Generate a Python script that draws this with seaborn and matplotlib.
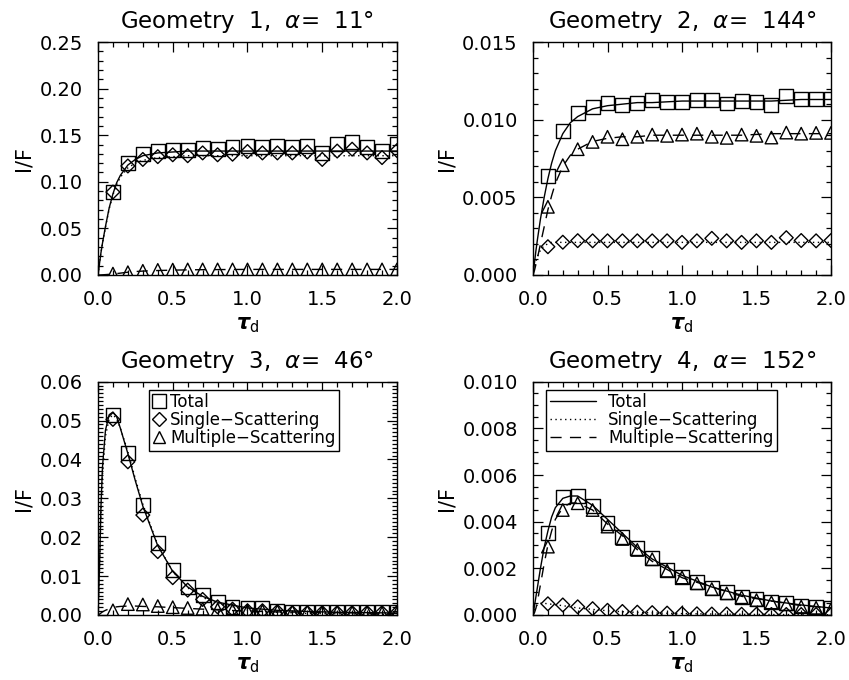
import numpy as np
import pandas as pd
import matplotlib
matplotlib.use("Agg")
import matplotlib.pyplot as plt
import seaborn as sns
from matplotlib.ticker import MultipleLocator, FormatStrFormatter
from matplotlib.lines import Line2D

# ---------------- data ----------------
tau_pts = [0.1, 0.2, 0.3, 0.4, 0.5, 0.6, 0.7, 0.8, 0.9, 1.0,
           1.1, 1.2, 1.3, 1.4, 1.5, 1.6, 1.7, 1.8, 1.9, 2.0]
tau_curve = [0, 0.01, 0.02, 0.03, 0.05, 0.075, 0.1, 0.125, 0.15, 0.2, 0.25, 0.3,
             0.4, 0.5, 0.6, 0.7, 0.8, 1.0, 1.2, 1.4, 1.6, 1.8, 2.0]

titles = ["Geometry  1,  $\\alpha$=  11°", "Geometry  2,  $\\alpha$=  144°",
          "Geometry  3,  $\\alpha$=  46°", "Geometry  4,  $\\alpha$=  152°"]
legend_labels = ['Total', 'Single\u2212Scattering', 'Multiple\u2212Scattering']
ylims = [0.25, 0.015, 0.06, 0.010]
ymajor = [0.05, 0.005, 0.01, 0.002]
yminor = [0.01, 0.001, 0.001, 0.0005]
yfmt = ["%.2f", "%.3f", "%.2f", "%.3f"]

# Geometry 1
g1_tot_pts = [0.089, 0.120, 0.1296, 0.133, 0.134, 0.134, 0.136, 0.135, 0.137, 0.1385,
              0.137, 0.138, 0.137, 0.1385, 0.1307, 0.1407, 0.143, 0.137, 0.1335, 0.141]
g1_ss_pts = [0.089, 0.117, 0.124, 0.127, 0.129, 0.128, 0.131, 0.129, 0.1296, 0.1325,
             0.131, 0.131, 0.131, 0.132, 0.124, 0.133, 0.135, 0.131, 0.126, 0.1335]
g1_ms_pts = [0.0015, 0.003, 0.0045, 0.0055, 0.0058, 0.006, 0.006, 0.006, 0.006, 0.006,
             0.006, 0.006, 0.006, 0.006, 0.006, 0.006, 0.006, 0.006, 0.006, 0.006]
g1_tot_curve = [0, 0.012, 0.024, 0.034, 0.052, 0.072, 0.087, 0.099, 0.107, 0.118, 0.124, 0.128,
                0.131, 0.132, 0.133, 0.133, 0.133, 0.133, 0.133, 0.133, 0.133, 0.133, 0.133]
g1_ss_curve = [0, 0.012, 0.024, 0.034, 0.051, 0.071, 0.086, 0.097, 0.105, 0.115, 0.120, 0.123,
               0.126, 0.127, 0.128, 0.128, 0.128, 0.128, 0.128, 0.128, 0.128, 0.128, 0.128]
g1_ms_curve = [0, 0.0, 0.0001, 0.0002, 0.0004, 0.0007, 0.001, 0.0015, 0.002, 0.003, 0.0037, 0.0042,
               0.0048, 0.0052, 0.0055, 0.0057, 0.0058, 0.006, 0.006, 0.006, 0.006, 0.006, 0.006]

# Geometry 2
g2_tot_pts = [0.00639, 0.00926, 0.01044, 0.01082, 0.01108, 0.01097, 0.01108, 0.01125, 0.01114, 0.01114,
              0.01129, 0.01129, 0.01104, 0.01119, 0.01114, 0.01097, 0.01151, 0.01131, 0.01131, 0.01136]
g2_ss_pts = [0.00182, 0.00211, 0.00221, 0.0022, 0.0022, 0.0022, 0.0022, 0.0022, 0.0022, 0.0021,
             0.0022, 0.00236, 0.0022, 0.0021, 0.0022, 0.0021, 0.0024, 0.00222, 0.0022, 0.00222]
g2_ms_pts = [0.00439, 0.00707, 0.0081, 0.00857, 0.0089, 0.00874, 0.0089, 0.00904, 0.00896, 0.00904,
             0.0091, 0.0089, 0.00883, 0.00904, 0.00896, 0.00885, 0.00917, 0.0091, 0.00915, 0.00915]
g2_tot_curve = [0, 0.0008, 0.0016, 0.0023, 0.0036, 0.0050, 0.0062, 0.0072, 0.0080, 0.0091, 0.0098, 0.0102,
                0.0107, 0.0109, 0.0110, 0.0111, 0.0111, 0.0112, 0.0112, 0.0112, 0.0112, 0.0113, 0.0113]
g2_ss_curve = [0, 0.0005, 0.0009, 0.0012, 0.0016, 0.0019, 0.0020, 0.0021, 0.0021, 0.0021, 0.0021, 0.0021,
               0.0021, 0.0021, 0.0021, 0.0021, 0.0021, 0.0021, 0.0021, 0.0021, 0.0021, 0.0021, 0.0021]
g2_ms_curve = [0, 0.0003, 0.0007, 0.0011, 0.0020, 0.0031, 0.0042, 0.0051, 0.0059, 0.0070, 0.0077, 0.0081,
               0.0086, 0.0088, 0.0089, 0.0089, 0.0090, 0.0090, 0.0090, 0.0090, 0.0091, 0.0091, 0.0091]

# Geometry 3
g3_tot_pts = [0.0514, 0.0417, 0.0283, 0.0184, 0.0116, 0.0073, 0.0051, 0.0033, 0.0021, 0.0019,
              0.0017, 0.0011, 0.0009, 0.0009, 0.0009, 0.0009, 0.0009, 0.0009, 0.0009, 0.0009]
g3_ss_pts = [0.0503, 0.0394, 0.0257, 0.0163, 0.0096, 0.0064, 0.0040, 0.0021, 0.0015, 0.0011,
             0.0011, 0.0009, 0.0006, 0.0006, 0.0006, 0.0006, 0.0006, 0.0006, 0.0006, 0.0006]
g3_ms_pts = [0.0012, 0.0028, 0.0027, 0.0023, 0.0020, 0.0018, 0.0016, 0.0014, 0.0012, 0.0011,
             0.0010, 0.0009, 0.0008, 0.0008, 0.0007, 0.0007, 0.0006, 0.0006, 0.0005, 0.0005]
g3_tot_curve = [0, 0.012, 0.028, 0.038, 0.0475, 0.0515, 0.0522, 0.051, 0.048, 0.0415, 0.0345, 0.028,
                0.0178, 0.0112, 0.0072, 0.0048, 0.0033, 0.0018, 0.0012, 0.0009, 0.0007, 0.0006, 0.0005]
g3_ss_curve = [0, 0.011, 0.026, 0.036, 0.046, 0.0505, 0.0515, 0.0505, 0.048, 0.042, 0.035, 0.0285,
               0.018, 0.0112, 0.007, 0.0045, 0.003, 0.0013, 0.0007, 0.0004, 0.0003, 0.0002, 0.0001]
g3_ms_curve = [0, 0.0002, 0.0005, 0.0008, 0.0012, 0.0016, 0.0019, 0.0021, 0.0022, 0.0023, 0.0023, 0.0022,
               0.0021, 0.0019, 0.0017, 0.0015, 0.0013, 0.0010, 0.0008, 0.0007, 0.0006, 0.0005, 0.0004]

# Geometry 4
g4_tot_pts = [0.0035, 0.00507, 0.00511, 0.00469, 0.00393, 0.00333, 0.00286, 0.00243, 0.00193, 0.00164,
              0.0014, 0.00114, 0.00097, 0.00079, 0.00067, 0.00057, 0.0005, 0.0004, 0.00036, 0.00029]
g4_ss_pts = [0.00048, 0.00043, 0.00035, 0.00027, 0.0002, 0.00015, 0.00012, 0.0001, 0.00008, 0.00006,
             0.00005, 0.00004, 0.00004, 0.00003, 0.00003, 0.00002, 0.00002, 0.00002, 0.00002, 0.00001]
g4_ms_pts = [0.00293, 0.0045, 0.00479, 0.0045, 0.00379, 0.00326, 0.00279, 0.00239, 0.0019, 0.00161,
             0.00136, 0.00111, 0.00093, 0.00076, 0.00064, 0.00054, 0.00046, 0.00036, 0.00031, 0.00024]
g4_tot_curve = [0, 0.0004, 0.0008, 0.0012, 0.0020, 0.0029, 0.0036, 0.0042, 0.0046, 0.0050, 0.0051, 0.0051,
                0.0047, 0.0041, 0.0035, 0.0029, 0.0024, 0.0017, 0.0012, 0.00085, 0.0006, 0.00043, 0.0003]
g4_ss_curve = [0, 0.0002, 0.00035, 0.00045, 0.0005, 0.0005, 0.00048, 0.00046, 0.00044, 0.0004, 0.00035, 0.0003,
               0.00024, 0.00018, 0.00014, 0.00011, 0.00009, 0.00006, 0.00004, 0.00003, 0.00002, 0.00002, 0.00001]
g4_ms_curve = [0, 0.0001, 0.0003, 0.0006, 0.0013, 0.0022, 0.003, 0.0036, 0.0041, 0.0046, 0.0048, 0.0048,
               0.0045, 0.0039, 0.0034, 0.0028, 0.0023, 0.0016, 0.0012, 0.0008, 0.0006, 0.0004, 0.0003]

pts = [(g1_tot_pts, g1_ss_pts, g1_ms_pts), (g2_tot_pts, g2_ss_pts, g2_ms_pts),
       (g3_tot_pts, g3_ss_pts, g3_ms_pts), (g4_tot_pts, g4_ss_pts, g4_ms_pts)]
curves = [(g1_tot_curve, g1_ss_curve, g1_ms_curve), (g2_tot_curve, g2_ss_curve, g2_ms_curve),
          (g3_tot_curve, g3_ss_curve, g3_ms_curve), (g4_tot_curve, g4_ss_curve, g4_ms_curve)]

# ---------------- style ----------------
sns.set_style("ticks")
plt.rcParams['font.family'] = ['DejaVu Sans']
plt.rcParams['mathtext.fontset'] = 'dejavusans'
for k in ['text.color', 'axes.labelcolor', 'xtick.color', 'ytick.color', 'axes.edgecolor']:
    plt.rcParams[k] = 'black'

fig = plt.figure(figsize=(8.49, 6.80), dpi=100)
positions = [
    [0.1154, 0.5956, 0.3522, 0.3426],
    [0.6278, 0.5956, 0.3510, 0.3426],
    [0.1154, 0.0956, 0.3522, 0.3431],
    [0.6278, 0.0956, 0.3510, 0.3431],
]

line_styles = ['-', (0, (1, 2.5)), (0, (8, 6))]
markers = ['s', 'D', '^']
msizes = [10.0, 7.0, 9.0]

for i in range(4):
    ax = fig.add_axes(positions[i])
    tot_c, ss_c, ms_c = curves[i]
    for vals, ls in zip([tot_c, ss_c, ms_c], line_styles):
        sns.lineplot(x=tau_curve, y=vals, ax=ax, color='black', lw=1.0,
                     linestyle=ls, estimator=None, sort=False)
    for vals, mk, ms in zip(pts[i], markers, msizes):
        sns.scatterplot(x=tau_pts, y=vals, ax=ax, marker=mk, s=ms ** 2,
                        facecolor='none', edgecolor='black', linewidth=1.0,
                        zorder=3)
    ax.set_xlim(0, 2.0)
    ax.set_ylim(0, ylims[i])
    ax.xaxis.set_major_locator(MultipleLocator(0.5))
    ax.xaxis.set_minor_locator(MultipleLocator(0.1))
    ax.xaxis.set_major_formatter(FormatStrFormatter('%.1f'))
    ax.yaxis.set_major_locator(MultipleLocator(ymajor[i]))
    ax.yaxis.set_minor_locator(MultipleLocator(yminor[i]))
    ax.yaxis.set_major_formatter(FormatStrFormatter(yfmt[i]))
    ax.tick_params(which='both', direction='in', top=True, right=True,
                   color='black', width=0.9)
    ax.tick_params(which='major', length=7, labelsize=14, pad=11)
    ax.tick_params(which='minor', length=3.5)
    for sp in ax.spines.values():
        sp.set_linewidth(1.0)
        sp.set_color('black')
    ax.set_title(titles[i], fontsize=16.5, pad=10)
    ax.set_xlabel(r'$\boldsymbol{\tau}_{\rm d}$', fontsize=15, labelpad=4)
    ax.set_ylabel('I/F', fontsize=15, labelpad=4)

    if i == 2:
        handles = [Line2D([], [], linestyle='none', marker=m, markersize=ms * 0.95,
                          markerfacecolor='none', markeredgecolor='black', markeredgewidth=1.0)
                   for m, ms in zip(markers, msizes)]
        ax.legend(handles, legend_labels,
                  loc='upper left', bbox_to_anchor=(0.172, 0.965), fontsize=12,
                  frameon=True, fancybox=False, edgecolor='black', framealpha=1,
                  handlelength=0.8, handletextpad=0.25, borderpad=0.2, labelspacing=0.0,
                  borderaxespad=0)
    if i == 3:
        handles = [Line2D([], [], color='black', lw=1.0, linestyle=ls) for ls in line_styles]
        ax.legend(handles, legend_labels,
                  loc='upper left', bbox_to_anchor=(0.045, 0.965), fontsize=12,
                  frameon=True, fancybox=False, edgecolor='black', framealpha=1,
                  handlelength=2.8, handletextpad=0.7, borderpad=0.2, labelspacing=0.0,
                  borderaxespad=0)
    leg = ax.get_legend()
    if leg is not None:
        leg.get_frame().set_linewidth(1.0)

fig.savefig('out.png', dpi=100)
